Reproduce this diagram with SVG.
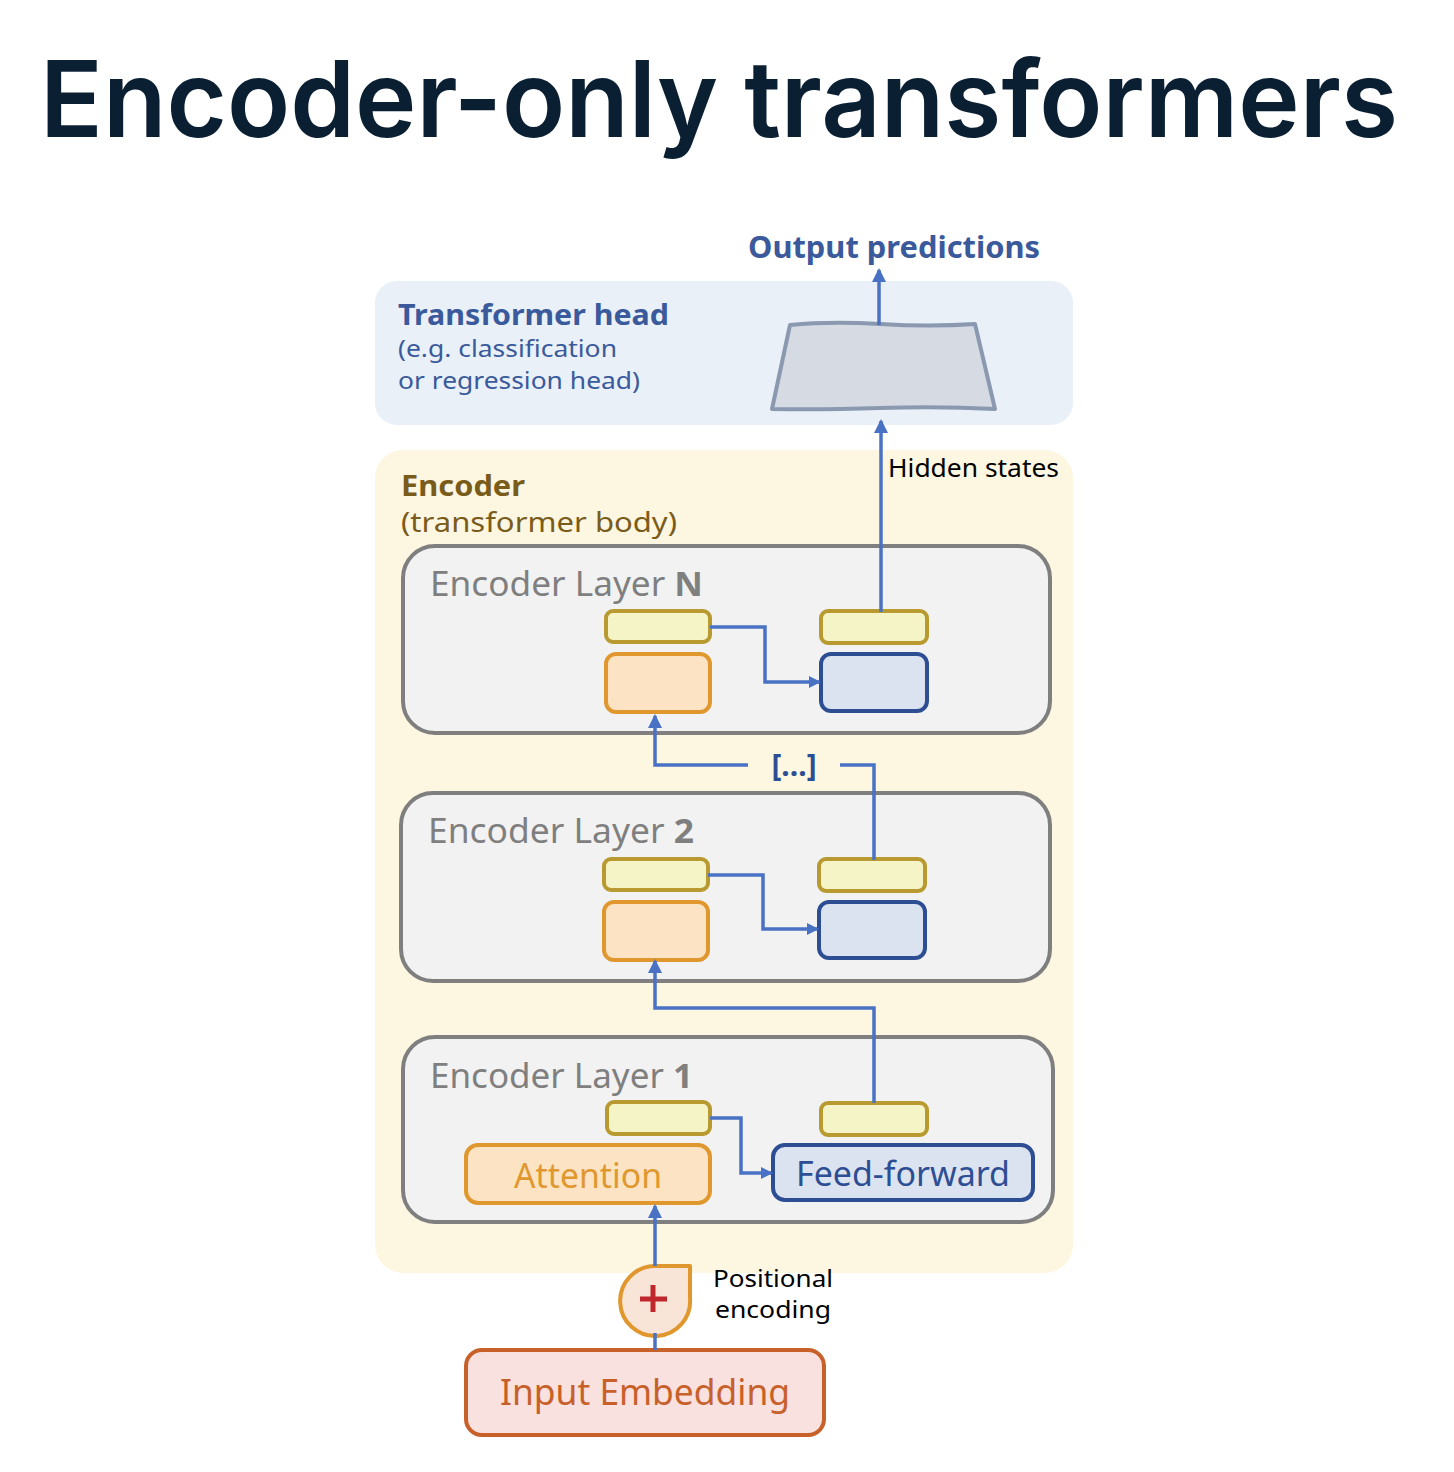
<svg xmlns="http://www.w3.org/2000/svg" width="1454" height="1472" viewBox="0 0 1454 1472">
<defs>
<marker id="arr" markerWidth="12" markerHeight="12" refX="10" refY="6" orient="auto" markerUnits="userSpaceOnUse" viewBox="0 0 12 12">
<path d="M0,0 L12,6 L0,12 z" fill="#4a72c4"/>
</marker>
<marker id="arrL" markerWidth="14" markerHeight="14" refX="12" refY="7" orient="auto" markerUnits="userSpaceOnUse" viewBox="0 0 14 14">
<path d="M0,0 L14,7 L0,14 z" fill="#4a72c4"/>
</marker>
</defs>
<style>
.t{font-family:"Noto Sans","Open Sans","Liberation Sans",sans-serif}
.layer{fill:#f2f2f2;stroke:#7f7f7f;stroke-width:4}
.lt{font-size:34px;fill:#7f7f7f}
.yel{fill:#f4f4c6;stroke:#b89a30;stroke-width:4}
.org{fill:#fbe3c3;stroke:#e0982e;stroke-width:4}
.blu{fill:#dbe3f0;stroke:#2e4e94;stroke-width:4}
.con{fill:none;stroke:#4a72c4;stroke-width:3.5}
</style>
<rect width="1454" height="1472" fill="#ffffff"/>
<text x="40" y="137" font-family="Inter,'Liberation Sans',sans-serif" font-weight="600" font-size="106" fill="#0b1f33" textLength="1358" lengthAdjust="spacingAndGlyphs">Encoder-only transformers</text>

<g id="head">
<rect x="375" y="281" width="698" height="144" rx="22" fill="#e9f0f8"/>
<text class="t" x="398" y="325" font-size="28" font-weight="700" fill="#3a5a9c" textLength="271" lengthAdjust="spacingAndGlyphs">Transformer head</text>
<text class="t" x="398" y="357" font-size="24" fill="#3a5a9c" textLength="219" lengthAdjust="spacingAndGlyphs">(e.g. classification</text>
<text class="t" x="398" y="389" font-size="24" fill="#3a5a9c" textLength="242" lengthAdjust="spacingAndGlyphs">or regression head)</text>
<path d="M790,325 Q830,321 880,324 T975,324 L995,409 Q940,406 880,408 T772,409 Z" fill="#d5dae3" stroke="#8a99b0" stroke-width="4" stroke-linejoin="round"/>
</g>
<text id="output" class="t" x="748" y="258" font-size="30" font-weight="700" fill="#3a5a9c" textLength="292" lengthAdjust="spacingAndGlyphs">Output predictions</text>

<g id="encoder">
<rect x="375" y="450" width="698" height="823" rx="28" fill="#fdf6e1"/>
<text class="t" x="401" y="496" font-size="28" font-weight="700" fill="#7a5c1a" textLength="124" lengthAdjust="spacingAndGlyphs">Encoder</text>
<text class="t" x="401" y="532" font-size="28" fill="#7a5c1a" textLength="276" lengthAdjust="spacingAndGlyphs">(transformer body)</text>
</g>

<g id="layerN">
<rect class="layer" x="403" y="546" width="647" height="187" rx="32"/>
<text class="t lt" x="430" y="596" textLength="273" lengthAdjust="spacingAndGlyphs">Encoder Layer <tspan font-weight="700">N</tspan></text>
<rect class="yel" x="606" y="611" width="104" height="31" rx="7"/>
<rect class="org" x="606" y="654" width="104" height="58" rx="10"/>
<rect class="yel" x="821" y="611" width="106" height="32" rx="7"/>
<rect class="blu" x="821" y="654" width="106" height="57" rx="10"/>
</g>

<g id="layer2">
<rect class="layer" x="401" y="793" width="649" height="188" rx="32"/>
<text class="t lt" x="428" y="843" textLength="266" lengthAdjust="spacingAndGlyphs">Encoder Layer <tspan font-weight="700">2</tspan></text>
<rect class="yel" x="604" y="859" width="104" height="31" rx="7"/>
<rect class="org" x="604" y="902" width="104" height="58" rx="10"/>
<rect class="yel" x="819" y="859" width="106" height="32" rx="7"/>
<rect class="blu" x="819" y="902" width="106" height="56" rx="10"/>
</g>

<g id="layer1">
<rect class="layer" x="403" y="1037" width="650" height="185" rx="32"/>
<text class="t lt" x="430" y="1088" textLength="263" lengthAdjust="spacingAndGlyphs">Encoder Layer <tspan font-weight="700">1</tspan></text>
<rect class="yel" x="607" y="1102" width="103" height="32" rx="7"/>
<rect class="yel" x="821" y="1103" width="106" height="32" rx="7"/>
</g>

<g id="attention">
<rect class="org" x="466" y="1145" width="244" height="58" rx="12"/>
<text class="t" x="588" y="1188" font-size="34" fill="#e0982e" text-anchor="middle" textLength="148" lengthAdjust="spacingAndGlyphs">Attention</text>
</g>

<g id="feedforward">
<rect class="blu" x="773" y="1145" width="260" height="55" rx="12"/>
<text class="t" x="903" y="1186" font-size="34" fill="#2e4e94" text-anchor="middle" textLength="214" lengthAdjust="spacingAndGlyphs">Feed-forward</text>
</g>

<g id="posenc">
<path d="M690,1266 L690,1298 A35,35 0 1 1 655,1266 Z" fill="#f9e5d8" stroke="#e0982e" stroke-width="4" stroke-linejoin="round"/>
<path d="M653,1285 V1312 M640,1299 H667" stroke="#c0272d" stroke-width="5"/>
<text class="t" x="713" y="1287" font-size="24" fill="#000" textLength="120" lengthAdjust="spacingAndGlyphs">Positional</text>
<text class="t" x="715" y="1318" font-size="24" fill="#000" textLength="116" lengthAdjust="spacingAndGlyphs">encoding</text>
</g>

<g id="input">
<rect x="466" y="1350" width="358" height="85" rx="16" fill="#f9e1df" stroke="#c8602a" stroke-width="4"/>
<text class="t" x="645" y="1405" font-size="36" fill="#c8602a" text-anchor="middle" textLength="290" lengthAdjust="spacingAndGlyphs">Input Embedding</text>
</g>

<g id="connectors">
<path class="con" d="M879,325 V270" marker-end="url(#arrL)"/>
<path class="con" d="M881,612 V421" marker-end="url(#arrL)"/>
<text class="t" x="888" y="477" font-size="26" fill="#000" textLength="171" lengthAdjust="spacingAndGlyphs">Hidden states</text>
<path class="con" d="M710,627 H765 V682 H819" marker-end="url(#arr)"/>
<path class="con" d="M874,860 V765 H840"/>
<path class="con" d="M748,765 H655 V716" marker-end="url(#arrL)"/>
<text class="t" x="794" y="776" font-size="30" font-weight="700" fill="#2e4e94" text-anchor="middle">[...]</text>
<path class="con" d="M708,875 H763 V929 H817" marker-end="url(#arr)"/>
<path class="con" d="M874,1103 V1008 H655 V961" marker-end="url(#arrL)"/>
<path class="con" d="M710,1118 H741 V1173 H771" marker-end="url(#arr)"/>
<path class="con" d="M655,1266 V1206" marker-end="url(#arrL)"/>
<path class="con" d="M655,1333 V1350"/>
</g>
</svg>
